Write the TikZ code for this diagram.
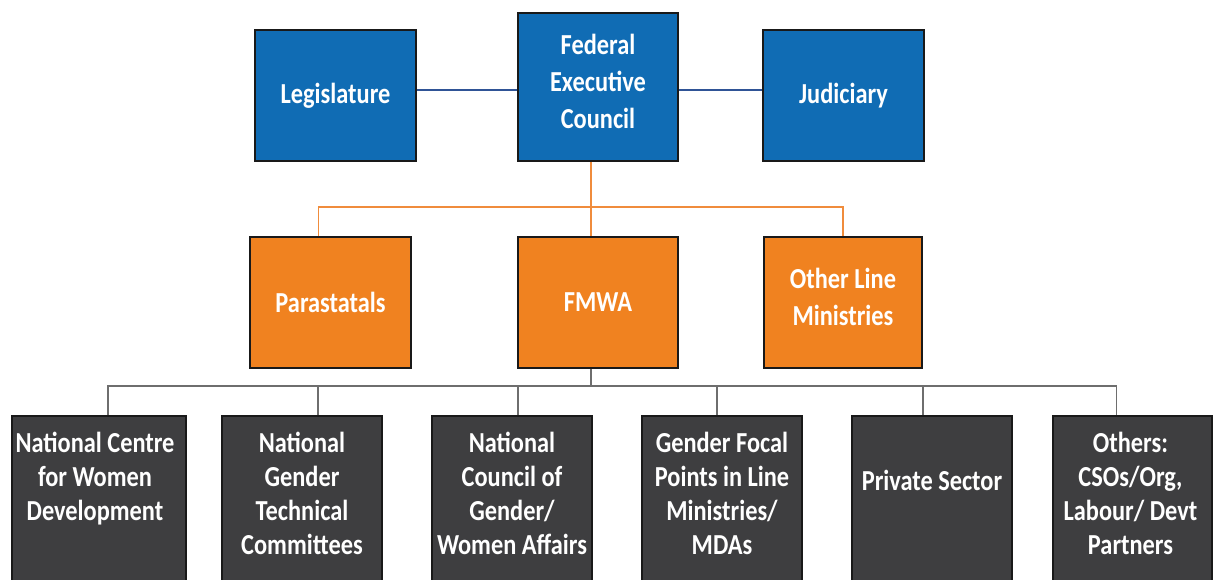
\documentclass[tikz,border=0pt]{standalone}
\usepackage{fontspec}
\setmainfont{Carlito}[FakeStretch=0.84]
\usetikzlibrary{calc}
\definecolor{boxblue}{RGB}{16,108,180}
\definecolor{boxorange}{RGB}{240,130,32}
\definecolor{boxgray}{RGB}{62,62,64}
\definecolor{lineblue}{RGB}{47,84,150}
\definecolor{lineorange}{RGB}{240,140,60}
\definecolor{linegray}{RGB}{110,110,110}
\tikzset{
  box/.style={draw=black!90, line width=2pt, inner sep=0pt, text=white, align=center,
    font=\bfseries\fontsize{29}{37}\selectfont},
  bluebox/.style={box, fill=boxblue},
  orangebox/.style={box, fill=boxorange},
  graybox/.style={box, fill=boxgray},
  toptext/.style={text=white, align=center, inner sep=0pt,
    font=\bfseries\fontsize{29}{37}\selectfont},
  btext/.style={text=white, align=center, inner sep=0pt, anchor=north,
    font=\bfseries\fontsize{29}{34}\selectfont},
  bline/.style={draw=lineblue, line width=1.8pt},
  oline/.style={draw=lineorange, line width=1.8pt},
  gline/.style={draw=linegray, line width=1.8pt}
}
\begin{document}
\begin{tikzpicture}[x=1pt,y=-1pt]
\useasboundingbox (0,0) rectangle (1215,580);
\fill[white] (0,0) rectangle (1215,580);
\clip (0,0) rectangle (1215,580);

% top row
\node[bluebox, minimum width=161pt, minimum height=131pt] (leg) at (335.5,95.5) {Legislature};
\node[bluebox, minimum width=160pt, minimum height=148pt] (fec) at (598,87) {};
\node[toptext] (fect) at ($(fec.center)+(0,-6)$) {Federal\\Executive\\Council};
\node[bluebox, minimum width=161pt, minimum height=131pt] (jud) at (843.5,95.5) {Judiciary};

% middle row
\node[orangebox, minimum width=161pt, minimum height=131pt] (par) at (330.5,302.5) {Parastatals};
\node[orangebox, minimum width=160pt, minimum height=131pt] (fmwa) at (598,302.5) {FMWA};
\node[orangebox, minimum width=158pt, minimum height=131pt] (olm) at (843,302.5) {};
\node[toptext] (olmt) at ($(olm.center)+(0,-6)$) {Other Line\\Ministries};

% bottom row
\node[graybox, minimum width=174pt, minimum height=184pt] (b1) at (99,508) {};
\node[graybox, minimum width=160pt, minimum height=184pt] (b2) at (302,508) {};
\node[graybox, minimum width=160pt, minimum height=184pt] (b3) at (512,508) {};
\node[graybox, minimum width=160pt, minimum height=184pt] (b4) at (722,508) {};
\node[graybox, minimum width=160pt, minimum height=184pt] (b5) at (932,508) {};
\node[graybox, minimum width=159pt, minimum height=184pt] (b6) at (1132.5,508) {};

\node[btext] (t1) at ($(b1.north)+(-4,16.5)$) {National Centre\\for Women\\Development};
\node[btext] (t2) at ($(b2.north)+(0,16.5)$) {National\\Gender\\Technical\\Committees};
\node[btext] (t3) at ($(b3.north)+(0,16.5)$) {National\\Council of\\Gender/\\Women Affairs};
\node[btext] (t4) at ($(b4.north)+(0,16.5)$) {Gender Focal\\Points in Line\\Ministries/\\MDAs};
\node[btext, anchor=center] (t5) at ($(b5.north)+(0,65)$) {Private Sector};
\node[btext] (t6) at ($(b6.north)+(-2,16.5)$) {Others:\\CSOs/Org,\\Labour/ Devt\\Partners};

% blue connectors
\draw[bline] (leg.east |- 0,90) -- (fec.west |- 0,90);
\draw[bline] (fec.east |- 0,90) -- (jud.west |- 0,90);

% orange connectors
\coordinate (ojoin) at ($(fec.south)+(-7,0)$);
\draw[oline] (ojoin) -- (ojoin |- 0,208);
\draw[oline] ($(par.north)+(-12,0)$) -- ($(par.north)+(-12,-29)$) -| (olm.north);
\draw[oline] (ojoin |- 0,208) -- ($(fmwa.north)+(-7,0)$);

% gray connectors
\coordinate (gjoin) at ($(fmwa.south)+(-7,0)$);
\draw[gline] (gjoin) -- (gjoin |- 0,387);
\draw[gline] ($(b1.north)+(9,0)$) -- ($(b1.north)+(9,-29)$) -| ($(b6.north)+(-16,0)$);
\draw[gline] ($(b2.north)+(16,0)$) -- ($(b2.north)+(16,-29)$);
\draw[gline] ($(b3.north)+(6,0)$) -- ($(b3.north)+(6,-29)$);
\draw[gline] ($(b4.north)+(-5,0)$) -- ($(b4.north)+(-5,-29)$);
\draw[gline] ($(b5.north)+(-9,0)$) -- ($(b5.north)+(-9,-29)$);
\end{tikzpicture}
\end{document}
